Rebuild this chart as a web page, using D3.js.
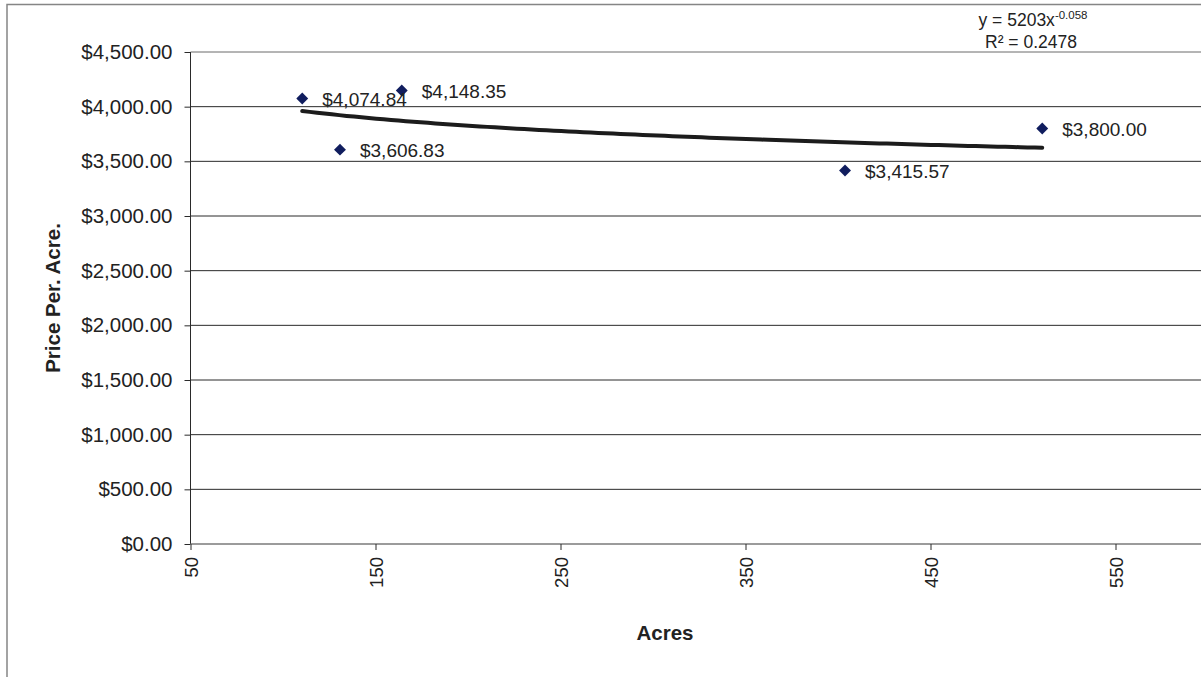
<!DOCTYPE html>
<html>
<head>
<meta charset="utf-8">
<script src="https://cdn.jsdelivr.net/npm/d3@7"></script>
<style>
  html, body { margin: 0; padding: 0; background: #fff; }
  svg { display: block; font-family: "Liberation Sans", Arial, sans-serif; }
</style>
</head>
<body>
<svg id="chart" width="1201" height="677"></svg>
<script>
// ---- data ----
const acres = [110.4, 164.2, 130.8, 403.8, 510.4];
const pricePerAcre = [4074.84, 4148.35, 3606.83, 3415.57, 3800.00];
const xTickValues = [50, 150, 250, 350, 450, 550];
const yTickValues = [0, 500, 1000, 1500, 2000, 2500, 3000, 3500, 4000, 4500];
const trendCoef = 5203;
const trendExp = -0.058;
const trendEquation = ["y = 5203x", "-0.058"];
const trendR2 = "R² = 0.2478";
const xTitle = "Acres";
const yTitle = "Price Per. Acre.";

const svg = d3.select("#chart");
const W = 1201, H = 677;

const x = d3.scaleLinear().domain([50, 600]).range([190.5, 1208]);
const y = d3.scaleLinear().domain([0, 4500]).range([544, 52]);

// outer chart border
svg.append("rect").attr("x", 0).attr("y", 0).attr("width", W).attr("height", H).attr("fill", "#fff");
svg.append("path")
  .attr("d", `M7,${H + 2}V4.5H${W + 2}`)
  .attr("fill", "none").attr("stroke", "#858585").attr("stroke-width", 1.5);

// gridlines
svg.append("g").selectAll("line").data(yTickValues.filter(d => d > 0)).join("line")
  .attr("x1", x(50)).attr("x2", W + 5)
  .attr("y1", d => y(d)).attr("y2", d => y(d))
  .attr("stroke", d => d === 4500 ? "#6a6a6a" : "#2a2a2a").attr("stroke-width", 1);

// y axis
const yAxis = d3.axisLeft(y).tickValues(yTickValues).tickSize(6).tickPadding(12)
  .tickFormat(d3.format("$,.2f"));
const gy = svg.append("g").attr("transform", `translate(${x(50)},0)`).call(yAxis);
gy.select(".domain").attr("stroke", "#2a2a2a").attr("d", `M-0,${y(0)}V${y(4500)}`);
gy.selectAll(".tick line").attr("stroke", "#2a2a2a");
gy.selectAll(".tick text").attr("font-size", 20.5).attr("fill", "#222")
  .attr("font-family", "'Liberation Sans', Arial, sans-serif");

// x axis
const xAxis = d3.axisBottom(x).tickValues(xTickValues).tickSize(6).tickFormat(d3.format("d"));
const gx = svg.append("g").attr("transform", `translate(0,${y(0)})`).call(xAxis);
gx.select(".domain").attr("stroke", "#7a7a7a").attr("stroke-width", 1.5)
  .attr("d", `M${x(50)},0H${W + 5}`);
gx.selectAll(".tick line").attr("stroke", "#2a2a2a");
gx.selectAll(".tick text")
  .attr("font-size", 18.5).attr("fill", "#222")
  .attr("font-family", "'Liberation Sans', Arial, sans-serif")
  .attr("transform", "rotate(-90)")
  .attr("text-anchor", "end")
  .attr("dominant-baseline", "central")
  .attr("x", -13).attr("y", 0).attr("dy", null);

// axis titles
svg.append("text").attr("x", 665).attr("y", 640)
  .attr("text-anchor", "middle").attr("font-weight", "bold").attr("font-size", 20.5)
  .attr("fill", "#222").text(xTitle);
svg.append("text")
  .attr("transform", `translate(60,298) rotate(-90)`)
  .attr("text-anchor", "middle").attr("font-weight", "bold").attr("font-size", 20.5)
  .attr("fill", "#222").text(yTitle);

// trendline (power fit)
const xMin = d3.min(acres), xMax = d3.max(acres);
const trendPts = d3.range(0, 101).map(i => {
  const xv = xMin + (xMax - xMin) * i / 100;
  return [xv, trendCoef * Math.pow(xv, trendExp)];
});
svg.append("path").datum(trendPts)
  .attr("d", d3.line().x(d => x(d[0])).y(d => y(d[1])))
  .attr("fill", "none").attr("stroke", "#1c1c1c").attr("stroke-width", 4)
  .attr("stroke-linecap", "round");

// points
const pts = acres.map((a, i) => ({ a, p: pricePerAcre[i] }));
const diamond = d3.symbol().type(d3.symbolDiamond2).size(90);
svg.append("g").selectAll("path").data(pts).join("path")
  .attr("d", diamond)
  .attr("transform", d => `translate(${x(d.a)},${y(d.p)})`)
  .attr("fill", "#101d5e");

// data labels
svg.append("g").selectAll("text").data(pts).join("text")
  .attr("x", d => x(d.a) + 20).attr("y", d => y(d.p) + 1)
  .attr("dominant-baseline", "central")
  .attr("font-size", 19).attr("fill", "#222")
  .text(d => d3.format("$,.2f")(d.p));

// equation
const eq = svg.append("text").attr("x", 1033).attr("y", 26)
  .attr("text-anchor", "middle").attr("font-size", 17.5).attr("fill", "#222");
eq.append("tspan").text(trendEquation[0]);
eq.append("tspan").attr("dy", -7).attr("font-size", 11.5).text(trendEquation[1]);
svg.append("text").attr("x", 1031).attr("y", 48)
  .attr("text-anchor", "middle").attr("font-size", 17.5).attr("fill", "#222")
  .text(trendR2);
</script>
</body>
</html>
